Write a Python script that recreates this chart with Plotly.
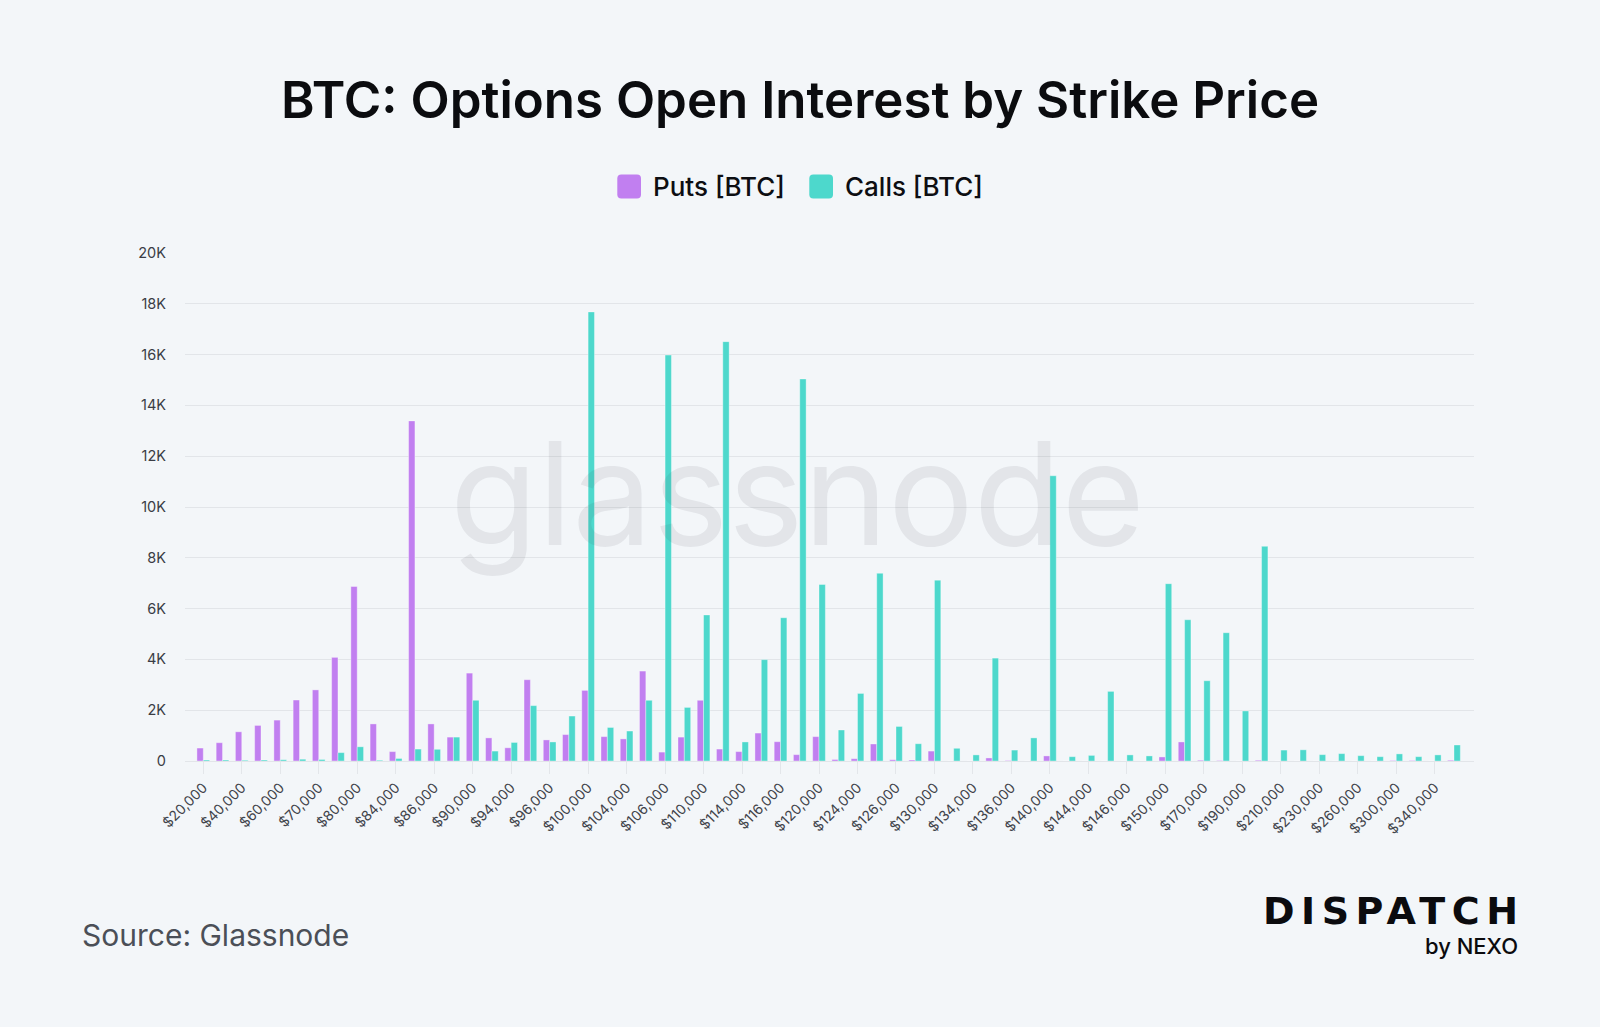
import plotly.graph_objects as go

strikes = ["$20,000", "$30,000", "$40,000", "$50,000", "$60,000", "$65,000", "$70,000", "$75,000",
           "$80,000", "$82,000", "$84,000", "$85,000", "$86,000", "$88,000", "$90,000", "$92,000",
           "$94,000", "$95,000", "$96,000", "$98,000", "$100,000", "$102,000", "$104,000", "$105,000",
           "$106,000", "$108,000", "$110,000", "$112,000", "$114,000", "$115,000", "$116,000", "$118,000",
           "$120,000", "$122,000", "$124,000", "$125,000", "$126,000", "$128,000", "$130,000", "$132,000",
           "$134,000", "$135,000", "$136,000", "$138,000", "$140,000", "$142,000", "$144,000", "$145,000",
           "$146,000", "$148,000", "$150,000", "$160,000", "$170,000", "$180,000", "$190,000", "$200,000",
           "$210,000", "$220,000", "$230,000", "$240,000", "$260,000", "$280,000", "$300,000", "$320,000",
           "$340,000", "$400,000"]

puts = [510, 720, 1150, 1400, 1610, 2400, 2800, 4080,
        6870, 1460, 370, 13390, 1460, 940, 3460, 910,
        520, 3200, 830, 1040, 2780, 960, 870, 3540,
        350, 940, 2390, 470, 370, 1100, 760, 250,
        960, 60, 90, 670, 50, 40, 390, 0,
        0, 120, 20, 0, 200, 0, 0, 0,
        0, 0, 160, 750, 30, 20, 0, 30,
        0, 0, 0, 0, 0, 0, 20, 20,
        0, 30]

calls = [40, 40, 30, 40, 50, 70, 60, 330,
         560, 30, 100, 470, 460, 940, 2390, 390,
         730, 2180, 750, 1770, 17680, 1320, 1180, 2390,
         15980, 2110, 5750, 16510, 750, 3990, 5640, 15040,
         6950, 1220, 2660, 7390, 1360, 680, 7120, 500,
         240, 4050, 430, 910, 11230, 170, 220, 2740,
         240, 200, 6980, 5560, 3160, 5050, 1970, 8450,
         430, 440, 250, 290, 210, 170, 280, 170,
         240, 630]

y_ticks = [0, 2000, 4000, 6000, 8000, 10000, 12000, 14000, 16000, 18000, 20000]
y_tick_text = ["0", "2K", "4K", "6K", "8K", "10K", "12K", "14K", "16K", "18K", "20K"]
x_tick_labels = strikes[::2]

PUT_COLOR = "#C17FF0"
CALL_COLOR = "#4DD8CC"
BG = "#F3F6F9"

W, H = 1600, 1027
PL, PR, PT, PB = 185, 1474, 253.3, 761.3


def px(x):
    return (x - PL) / (PR - PL)


def py(y):
    return (PB - y) / (PB - PT)


def rounded_rect(x0, y0, x1, y1, r):
    rx = r / (PR - PL)
    ry = r / (PB - PT)
    a0, a1 = px(x0), px(x1)
    b0, b1 = py(y1), py(y0)
    return (f"M {a0+rx},{b0} L {a1-rx},{b0} Q {a1},{b0} {a1},{b0+ry} "
            f"L {a1},{b1-ry} Q {a1},{b1} {a1-rx},{b1} L {a0+rx},{b1} "
            f"Q {a0},{b1} {a0},{b1-ry} L {a0},{b0+ry} Q {a0},{b0} {a0+rx},{b0} Z")


fig = go.Figure()
fig.add_trace(go.Bar(x=strikes, y=puts, name="Puts [BTC]",
                     marker=dict(color=PUT_COLOR, line=dict(color="rgba(255,255,255,0.35)", width=1))))
fig.add_trace(go.Bar(x=strikes, y=calls, name="Calls [BTC]",
                     marker=dict(color=CALL_COLOR, line=dict(color="rgba(255,255,255,0.35)", width=1))))

shapes = [
    dict(type="path", xref="paper", yref="paper", path=rounded_rect(617.3, 174.7, 641, 198.7, 4),
         fillcolor=PUT_COLOR, line=dict(width=0)),
    dict(type="path", xref="paper", yref="paper", path=rounded_rect(809.3, 174.7, 833, 198.7, 4),
         fillcolor=CALL_COLOR, line=dict(width=0)),
]

logo_style = "font-size:38px;font-family:DejaVu Sans;font-weight:bold"
logo_text = (f"<span style='{logo_style};letter-spacing:6.5px'>DISPATC</span>"
             f"<span style='{logo_style}'>H</span><br>"
             "<span style='font-size:22px;font-weight:500'>by NEXO</span>")

annotations = [
    dict(text="glassnode", xref="paper", yref="paper", x=px(797), y=py(493), xanchor="center",
         yanchor="middle", showarrow=False,
         font=dict(family="Inter", size=143, color="rgba(60,62,70,0.085)")),
    dict(text="Puts [BTC]", xref="paper", yref="paper", x=px(651), y=py(187), xanchor="left",
         yanchor="middle", showarrow=False,
         font=dict(family="Inter", size=26, weight=500, color="#0D0E12")),
    dict(text="Calls [BTC]", xref="paper", yref="paper", x=px(843), y=py(187), xanchor="left",
         yanchor="middle", showarrow=False,
         font=dict(family="Inter", size=26, weight=500, color="#0D0E12")),
    dict(text="Source: Glassnode", xref="paper", yref="paper", x=px(80), y=py(935), xanchor="left",
         yanchor="middle", showarrow=False, font=dict(family="Inter", size=30, color="#4B4F57")),
    dict(text=logo_text, xref="paper", yref="paper", x=px(1520), y=py(924), xanchor="right",
         yanchor="middle", align="right", showarrow=False,
         font=dict(family="Inter", size=23.4, color="#0B0B0E")),
]

fig.update_layout(
    width=W, height=H,
    margin=dict(l=PL, r=W - PR, t=PT, b=H - PB, pad=0),
    paper_bgcolor=BG, plot_bgcolor=BG,
    barmode="group", bargap=0.34, bargroupgap=0,
    showlegend=False,
    title=dict(text="BTC: Options Open Interest by Strike Price", xref="container", x=0.5,
               xanchor="center", y=1 - 100 / H, yanchor="middle",
               font=dict(family="Inter", size=51, weight=600, color="#0B0C0F")),
    shapes=shapes,
    annotations=annotations,
    font=dict(family="Inter", color="#3A3D45"),
)

fig.update_xaxes(
    type="category", range=[-0.95, 66.04],
    tickmode="array", tickvals=x_tick_labels, ticktext=x_tick_labels,
    tickangle=-45, tickfont=dict(family="Inter", size=14, color="#3F434A"),
    ticks="outside", ticklen=12, tickcolor="#E3E6EA", tickwidth=1,
    showgrid=False, showline=False, zeroline=False,
)
fig.update_yaxes(
    range=[0, 20000], tickmode="array", tickvals=y_ticks, ticktext=y_tick_text,
    tickfont=dict(family="Inter", size=14.5, color="#3A3D45"),
    showgrid=True, gridcolor="#E2E5E9", gridwidth=1.3,
    zeroline=True, zerolinecolor="#E2E5E9", zerolinewidth=1.3,
    showline=False, ticks="", ticklabelstandoff=18,
)

fig.write_html(
    "out.html",
    config={"displayModeBar": False},
    post_script="document.body.style.margin='0';document.documentElement.style.overflow='hidden';"
                "document.body.style.background='" + BG + "';",
)
